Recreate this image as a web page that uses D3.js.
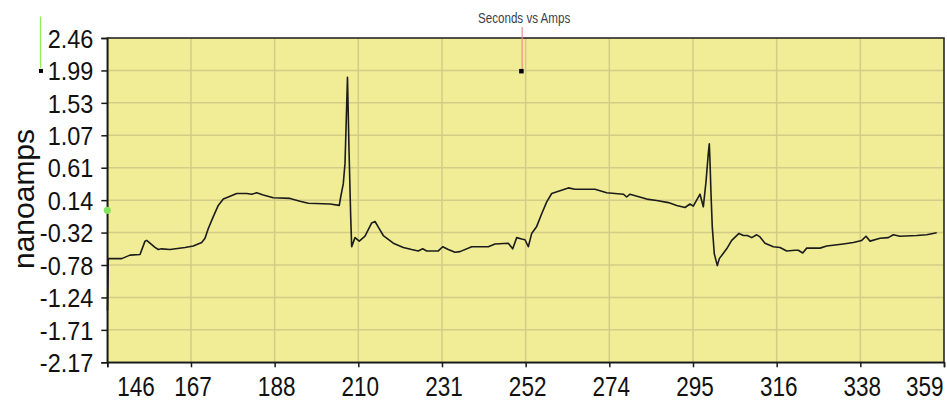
<!DOCTYPE html>
<html>
<head>
<meta charset="utf-8">
<script src="https://cdn.jsdelivr.net/npm/d3@7/dist/d3.min.js"></script>
<style>
  html, body { margin: 0; padding: 0; background: #ffffff; }
  svg { display: block; }
  text { font-family: "Liberation Sans", Arial, sans-serif; }
</style>
</head>
<body>
<svg id="chart" width="947" height="402"></svg>
<script>
// Recorded trace: time in seconds and current in nanoamps
const seconds = [
  145.75, 145.95, 149.37, 151.49, 154.04, 155.31, 155.74, 157.86, 158.70, 159.57,
  161.68, 165.51, 167.62, 169.77, 170.61, 171.45, 172.72, 173.99, 175.27, 176.55,
  178.69, 181.24, 182.51, 183.79, 185.47, 188.02, 192.28, 194.83, 196.94, 202.47,
  204.84, 205.20, 205.86, 206.30, 206.93, 207.32, 207.75, 208.00, 208.85, 209.94,
  211.40, 213.10, 213.95, 214.79, 216.06, 218.61, 221.16, 223.30, 224.98, 226.10,
  227.12, 230.08, 231.20, 232.63, 234.34, 235.61, 238.60, 242.83, 244.54, 247.93,
  249.05, 250.07, 251.34, 252.18, 253.03, 253.89, 255.17, 256.44, 257.72, 258.99,
  261.11, 263.22, 264.93, 270.03, 273.01, 277.25, 278.11, 278.95, 283.21, 285.76,
  288.72, 290.86, 292.97, 294.25, 295.09, 296.80, 297.64, 298.33, 298.91, 299.17,
  299.35, 299.60, 299.93, 300.44, 301.21, 301.72, 303.60, 304.88, 306.74, 307.84,
  308.86, 309.98, 311.25, 312.10, 313.37, 315.49, 317.19, 318.90, 321.02, 321.86,
  322.98, 324.00, 327.39, 329.10, 333.33, 335.88, 338.02, 339.12, 340.14, 342.69,
  344.80, 346.08, 347.78, 352.04, 354.59, 357.14
];
const nanoamps = [
  -1.43, -0.69, -0.69, -0.64, -0.63, -0.44, -0.43, -0.53, -0.56, -0.55,
  -0.56, -0.53, -0.51, -0.46, -0.40, -0.26, -0.09, 0.07, 0.16, 0.19,
  0.24, 0.24, 0.23, 0.25, 0.22, 0.18, 0.17, 0.13, 0.10, 0.09,
  0.07, 0.19, 0.38, 0.67, 1.90, 0.86, -0.09, -0.52, -0.39, -0.44,
  -0.37, -0.18, -0.16, -0.24, -0.36, -0.47, -0.53, -0.56, -0.58, -0.55,
  -0.58, -0.58, -0.52, -0.56, -0.60, -0.59, -0.52, -0.52, -0.48, -0.47,
  -0.55, -0.39, -0.41, -0.42, -0.52, -0.33, -0.23, -0.05, 0.12, 0.24,
  0.28, 0.32, 0.30, 0.30, 0.25, 0.23, 0.19, 0.23, 0.16, 0.14,
  0.11, 0.07, 0.04, 0.09, 0.06, 0.23, 0.05, 0.41, 0.81, 0.95,
  0.69, 0.24, -0.24, -0.62, -0.79, -0.69, -0.55, -0.43, -0.33, -0.36,
  -0.36, -0.39, -0.35, -0.38, -0.47, -0.52, -0.53, -0.58, -0.57, -0.57,
  -0.61, -0.54, -0.54, -0.51, -0.48, -0.46, -0.43, -0.37, -0.44, -0.40,
  -0.39, -0.35, -0.37, -0.36, -0.35, -0.32
];

// Axis extents and tick labels
const xDomain = [145.7, 359.0];
const yDomain = [-2.17, 2.46];
const xTickLabels = ["146", "167", "188", "210", "231", "252", "274", "295", "316", "338", "359"];
const yTickLabels = ["2.46", "1.99", "1.53", "1.07", "0.61", "0.14", "-0.32", "-0.78", "-1.24", "-1.71", "-2.17"];

// Cursor readout
const cursorTime = [251.2];
const cursorValue = [1.99];
const originValue = [0];

const chartTitle = "Seconds vs Amps";
const yTitle = "nanoamps";

const svg = d3.select("#chart");
const plot = { left: 107.3, right: 944, top: 38, bottom: 362.3 };

const x = d3.scaleLinear().domain(xDomain).range([plot.left, plot.right]);
const y = d3.scaleLinear().domain(yDomain).range([plot.bottom, plot.top]);

const xTicks = d3.range(xTickLabels.length).map(i => xDomain[0] + i * (xDomain[1] - xDomain[0]) / (xTickLabels.length - 1));
const yTicks = d3.range(yTickLabels.length).map(i => yDomain[1] - i * (yDomain[1] - yDomain[0]) / (yTickLabels.length - 1));

// Plot background
svg.append("rect")
  .attr("x", plot.left).attr("y", plot.top)
  .attr("width", plot.right - plot.left).attr("height", plot.bottom - plot.top)
  .attr("fill", "#f0ed96");

// Grid
const grid = svg.append("g").attr("stroke", "#d3cc86").attr("stroke-width", 1.5);
grid.selectAll("line.h").data(yTicks.slice(1, -1)).join("line")
  .attr("x1", plot.left).attr("x2", plot.right)
  .attr("y1", d => y(d)).attr("y2", d => y(d));
grid.selectAll("line.v").data(xTicks.slice(1, -1)).join("line")
  .attr("y1", plot.top).attr("y2", plot.bottom)
  .attr("x1", d => x(d)).attr("x2", d => x(d));

// Frame
svg.append("rect")
  .attr("x", plot.left).attr("y", plot.top)
  .attr("width", plot.right - plot.left).attr("height", plot.bottom - plot.top)
  .attr("fill", "none").attr("stroke", "#1a1a1a").attr("stroke-width", 1.5);

// Trace
const line = d3.line().x((d, i) => x(seconds[i])).y(d => y(d));
svg.append("path")
  .attr("d", line(nanoamps))
  .attr("fill", "none")
  .attr("stroke", "#1c1c1c")
  .attr("stroke-width", 1.6)
  .attr("stroke-linejoin", "round");

// Y axis
const yAxis = svg.append("g")
  .attr("transform", `translate(${plot.left},0)`)
  .call(d3.axisLeft(y).tickValues(yTicks).tickSize(6).tickFormat((d, i) => yTickLabels[i]));
yAxis.select(".domain").attr("stroke", "#1a1a1a").attr("stroke-width", 1.5);
yAxis.selectAll(".tick line").attr("stroke", "#1a1a1a").attr("stroke-width", 1.5);
yAxis.selectAll(".tick text")
  .attr("x", 0).attr("dy", "0.36em")
  .attr("transform", "translate(-14,0) scale(0.92,1)")
  .attr("font-size", 25.5).attr("fill", "#111")
  .attr("font-family", "'Liberation Sans', Arial, sans-serif");

// X axis
const xAxis = svg.append("g")
  .attr("transform", `translate(0,${plot.bottom})`)
  .call(d3.axisBottom(x).tickValues(xTicks).tickSize(5).tickFormat((d, i) => xTickLabels[i]));
xAxis.select(".domain").attr("stroke", "#1a1a1a").attr("stroke-width", 1.5);
xAxis.selectAll(".tick line").attr("stroke", "#1a1a1a").attr("stroke-width", 1.5);
const nX = xTickLabels.length;
xAxis.selectAll(".tick text")
  .attr("y", 0).attr("dy", 0).attr("x", 0)
  .attr("text-anchor", (d, i) => i === 0 ? "start" : (i === nX - 1 ? "end" : "middle"))
  .attr("transform", (d, i) => {
    const dx = i === 0 ? 9.5 : (i === nX - 1 ? -1 : 1.5);
    return `translate(${dx},33.2) scale(0.79,1)`;
  })
  .attr("font-size", 28.5).attr("fill", "#111")
  .attr("font-family", "'Liberation Sans', Arial, sans-serif");

// Y title
svg.append("text")
  .attr("transform", "translate(34,199) rotate(-90)")
  .attr("text-anchor", "middle")
  .attr("font-size", 30)
  .attr("fill", "#111")
  .text(yTitle);

// Chart title with cursor marker
const cx = x(cursorTime[0]);
const cy = y(cursorValue[0]);
svg.append("text")
  .attr("transform", `translate(${cx + 3},23) scale(0.83,1)`)
  .attr("text-anchor", "middle")
  .attr("font-size", 14)
  .attr("fill", "#3a3f4a")
  .text(chartTitle);
svg.append("line")
  .attr("x1", cx + 1).attr("x2", cx + 1)
  .attr("y1", 27).attr("y2", cy)
  .attr("stroke", "#f08c8c").attr("stroke-width", 1.2);
svg.append("rect")
  .attr("x", cx - 2).attr("y", cy - 2)
  .attr("width", 4.5).attr("height", 4.5)
  .attr("fill", "#000");

// Left-side cursor indicator
svg.append("line")
  .attr("x1", 40.5).attr("x2", 40.5)
  .attr("y1", 16.5).attr("y2", cy - 3)
  .attr("stroke", "#8cf05a").attr("stroke-width", 1.2);
svg.append("rect")
  .attr("x", 39).attr("y", cy - 2)
  .attr("width", 4).attr("height", 4)
  .attr("fill", "#000");

// Zero marker on the value axis
svg.append("circle")
  .attr("cx", plot.left).attr("cy", y(originValue[0]))
  .attr("r", 3.6)
  .attr("fill", "#86e260");
</script>
</body>
</html>
